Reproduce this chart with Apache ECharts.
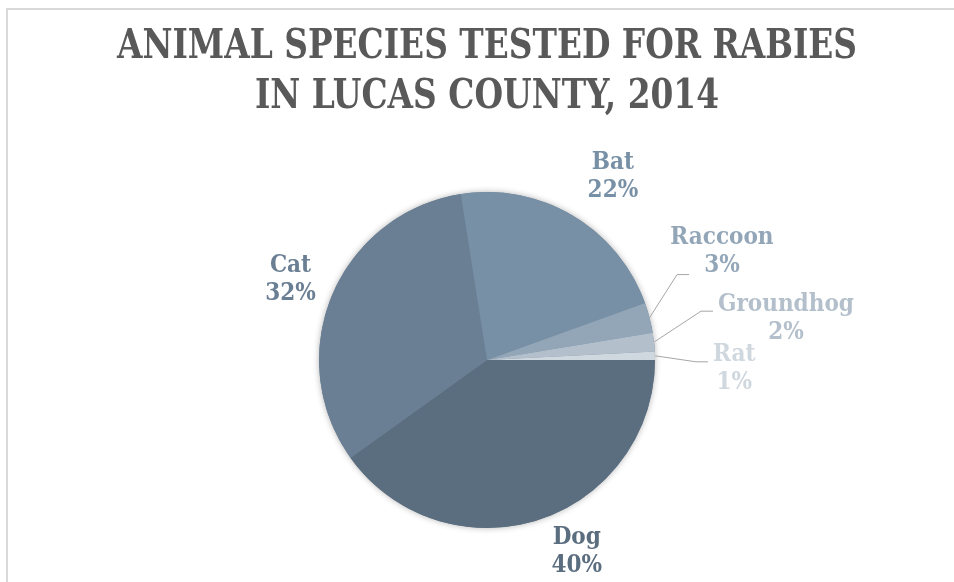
<!DOCTYPE html>
<html>
<head>
<meta charset="utf-8">
<script src="https://cdn.jsdelivr.net/npm/echarts@6/dist/echarts.min.js"></script>
<style>
  html, body { margin: 0; padding: 0; background: #fff; }
  #chart { width: 954px; height: 582px; }
</style>
</head>
<body>
<div id="chart"></div>
<script>
// share of animals tested, percent
const species = ['Dog', 'Cat', 'Bat', 'Raccoon', 'Groundhog', 'Rat']
const shares = [40.1, 32.4, 22.0, 2.9, 1.8, 0.8]
const sliceColors = ['#5b6e7f', '#6a7f93', '#7790a6', '#93a6b8', '#b3c0cc', '#cfd7df']
const titleLines = ['ANIMAL SPECIES TESTED FOR RABIES', 'IN LUCAS COUNTY, 2014']

// nudges (px) from echarts' own label spot to where excel put them
const labelShift = {
  Dog: [-5, 22],
  Cat: [8, -12],
  Bat: [-5, -30],
  Raccoon: [-4, -63],
  Groundhog: [39, -22],
  Rat: [33, 13],
}
// where the leader line meets the label box (fraction of width / height)
const lineHook = {
  Raccoon: [0.23, 0.9],
  Groundhog: [0, 0.36],
  Rat: [0, 0.38],
}

const FONT = '"DejaVu Serif Condensed", "DejaVu Serif", serif'
const CENTER = [487, 360]
const RADIUS = 168

const chart = echarts.init(document.getElementById('chart'))

const option = {
  animation: false,
  graphic: [
    {
      type: 'rect',
      silent: true,
      shape: { x: 7, y: 9, width: 948, height: 620 },
      style: { fill: 'none', stroke: '#d9d9d9', lineWidth: 2 },
    },
    {
      // title, stretched a bit taller like the excel one
      type: 'text',
      silent: true,
      x: 487,
      y: 23,
      scaleY: 1.12,
      style: {
        text: titleLines.join('\n'),
        font: `bold 36.5px ${FONT}`,
        lineHeight: 44,
        align: 'center',
        verticalAlign: 'top',
        fill: '#595959',
      },
    },
  ],
  series: [
    {
      // soft shadow under the pie
      type: 'pie',
      silent: true,
      center: CENTER,
      radius: RADIUS,
      z: 1,
      label: { show: false },
      labelLine: { show: false },
      itemStyle: {
        color: '#6a7f93',
        shadowBlur: 6,
        shadowColor: 'rgba(0,0,0,0.3)',
      },
      data: [1],
    },
    {
      type: 'pie',
      center: CENTER,
      radius: RADIUS,
      startAngle: 0,
      clockwise: true,
      z: 2,
      avoidLabelOverlap: false,
      itemStyle: { borderWidth: 0 },
      label: {
        position: 'outside',
        fontFamily: FONT,
        fontWeight: 'bold',
        fontSize: 24,
        lineHeight: 28,
        distanceToLabelLine: 5,
        formatter: (p) => `{n|${p.name}}\n{n|${Math.round(p.percent)}%}`,
        rich: {
          n: {
            fontFamily: FONT,
            fontWeight: 'bold',
            fontSize: 24,
            lineHeight: 28,
            align: 'center',
          },
        },
      },
      labelLine: {
        length: 10,
        length2: 10,
        lineStyle: { color: '#a6a6a6', width: 1 },
      },
      labelLayout: (params) => {
        const name = species[params.dataIndex]
        const d = labelShift[name] || [0, 0]
        const r = params.labelRect
        let x = r.x
        if (params.align === 'right') x = r.x + r.width
        else if (params.align === 'center') x = r.x + r.width / 2
        const out = { x: x + d[0], y: r.y + r.height / 2 + d[1] }
        const hook = lineHook[name]
        if (hook && params.labelLinePoints) {
          const p0 = params.labelLinePoints[0]
          const hx = r.x + d[0] + hook[0] * r.width - 5
          const hy = r.y + d[1] + hook[1] * r.height
          out.labelLinePoints = [[p0[0], p0[1]], [hx - 12, hy], [hx, hy]]
        }
        return out
      },
      data: species.map((name, i) => ({
        name,
        value: shares[i],
        itemStyle: { color: sliceColors[i] },
        label: { color: sliceColors[i] },
        labelLine: { show: name in lineHook },
      })),
    },
  ],
}

chart.setOption(option)
</script>
</body>
</html>
